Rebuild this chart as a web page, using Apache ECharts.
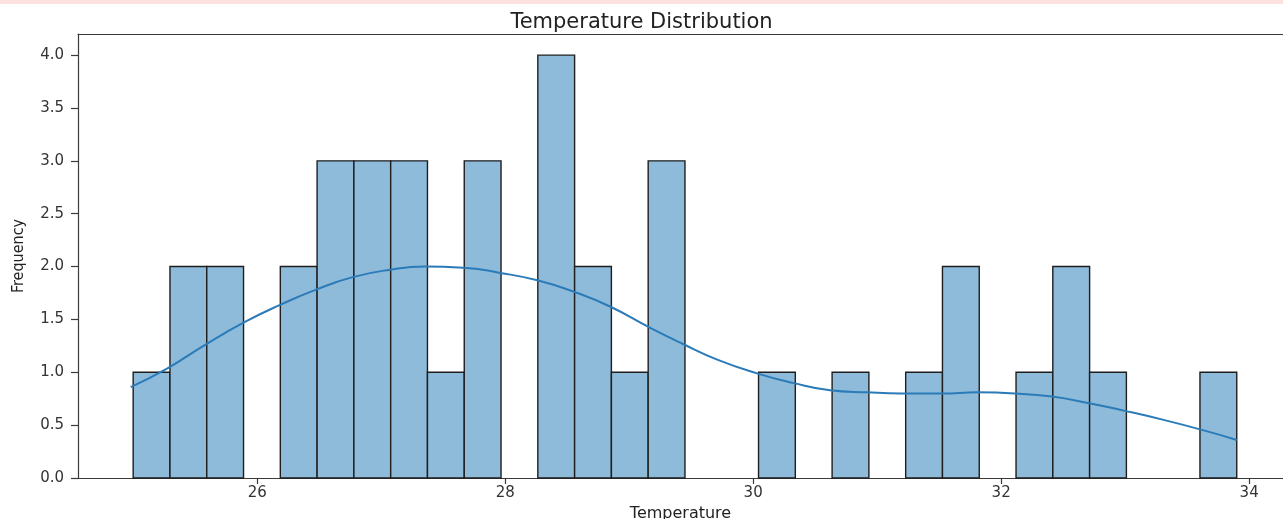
<!DOCTYPE html>
<html>
<head>
<meta charset="utf-8">
<script src="https://cdn.jsdelivr.net/npm/echarts@6/dist/echarts.min.js"></script>
<style>
html,body{margin:0;padding:0;background:#fff;}
#chart{width:1283px;height:519px;}
</style>
</head>
<body>
<div id="chart"></div>
<script>
// Histogram bins (30 equal bins between binMin and binMax)
const binMin = 25.0;
const binMax = 33.9;
const counts = [1, 2, 2, 0, 2, 3, 3, 3, 1, 3, 0, 4, 2, 1, 3, 0, 0, 1, 0, 1, 0, 1, 2, 0, 1, 2, 1, 0, 0, 1];
// KDE curve
const kdeX = [24.98, 25.28, 25.58, 25.89, 26.19, 26.47, 26.77, 27.07, 27.35, 27.66, 27.96, 28.26, 28.56, 28.85, 29.17, 29.43, 29.71, 30.03, 30.32, 30.62, 30.92, 31.19, 31.52, 31.81, 32.11, 32.41, 32.70, 33.00, 33.31, 33.62, 33.90];
const kdeY = [0.86, 1.04, 1.26, 1.47, 1.64, 1.78, 1.90, 1.97, 2.00, 1.99, 1.94, 1.87, 1.76, 1.62, 1.42, 1.27, 1.12, 0.99, 0.90, 0.83, 0.81, 0.80, 0.80, 0.81, 0.80, 0.77, 0.71, 0.635, 0.55, 0.455, 0.36];
const xTicks = [26, 28, 30, 32, 34];
const yTicks = [0, 0.5, 1.0, 1.5, 2.0, 2.5, 3.0, 3.5, 4.0];

const nb = counts.length;
const bw = (binMax - binMin) / nb;
const histData = counts.map((c, i) => [binMin + i * bw, binMin + (i + 1) * bw, c]);
const kdeData = kdeX.map((x, i) => [x, kdeY[i]]);

const X_MIN = 24.555, X_MAX = 34.273;
const spine = {color: '#3a3a3a', width: 1.2};
const chart = echarts.init(document.getElementById('chart'));
const font = 'DejaVu Sans';
chart.setOption({
  animation: false,
  backgroundColor: '#ffffff',
  graphic: [{
    type: 'rect', left: 0, top: 0, shape: {width: 1283, height: 4},
    style: {fill: '#fde0e0'}, silent: true
  }],
  title: {
    text: 'Temperature Distribution',
    left: 'center', top: 7,
    textStyle: {fontFamily: font, fontSize: 21, fontWeight: 'normal', color: '#222'}
  },
  grid: {
    left: 78, right: 0, top: 34, bottom: 41,
    outerBoundsMode: 'none', containLabel: false, show: false
  },
  xAxis: [{
    type: 'value', min: X_MIN, max: X_MAX,
    name: 'Temperature', nameLocation: 'middle', nameGap: 25,
    nameTextStyle: {fontFamily: font, fontSize: 16, color: '#222'},
    axisLine: {show: true, onZero: false, lineStyle: spine},
    axisTick: {show: true, length: 6, customValues: xTicks, lineStyle: spine},
    axisLabel: {customValues: xTicks, fontFamily: font, fontSize: 15, color: '#333', margin: 8},
    splitLine: {show: false}
  }, {
    type: 'value', position: 'top', min: X_MIN, max: X_MAX,
    axisLine: {show: true, onZero: false, lineStyle: spine},
    axisTick: {show: false}, axisLabel: {show: false}, splitLine: {show: false}
  }],
  yAxis: {
    type: 'value', min: 0, max: 4.2,
    name: 'Frequency', nameLocation: 'middle', nameGap: 51, nameRotate: 90,
    nameTextStyle: {fontFamily: '"Liberation Sans Narrow", "DejaVu Sans Condensed", sans-serif', fontSize: 16, color: '#222'},
    axisLine: {show: true, lineStyle: spine},
    axisTick: {show: true, length: 7, customValues: yTicks, lineStyle: spine},
    axisLabel: {customValues: yTicks, fontFamily: font, fontSize: 15, color: '#333', margin: 14,
      formatter: v => Number(v).toFixed(1)},
    splitLine: {show: false}
  },
  series: [{
    type: 'custom',
    xAxisIndex: 0,
    data: histData,
    encode: {x: [0, 1], y: 2},
    renderItem: function (params, api) {
      const x0 = api.value(0), x1 = api.value(1), c = api.value(2);
      if (!c) return null;
      const p0 = api.coord([x0, c]);
      const p1 = api.coord([x1, 0]);
      return {
        type: 'rect',
        shape: {x: p0[0], y: p0[1], width: p1[0] - p0[0], height: p1[1] - p0[1]},
        style: {fill: '#8fbbda', stroke: '#1e1e1e', lineWidth: 1.4}
      };
    },
    z: 2
  }, {
    type: 'line',
    xAxisIndex: 0,
    data: kdeData,
    smooth: true,
    showSymbol: false,
    lineStyle: {color: '#2a7bb8', width: 2},
    z: 3
  }]
});
</script>
</body>
</html>
